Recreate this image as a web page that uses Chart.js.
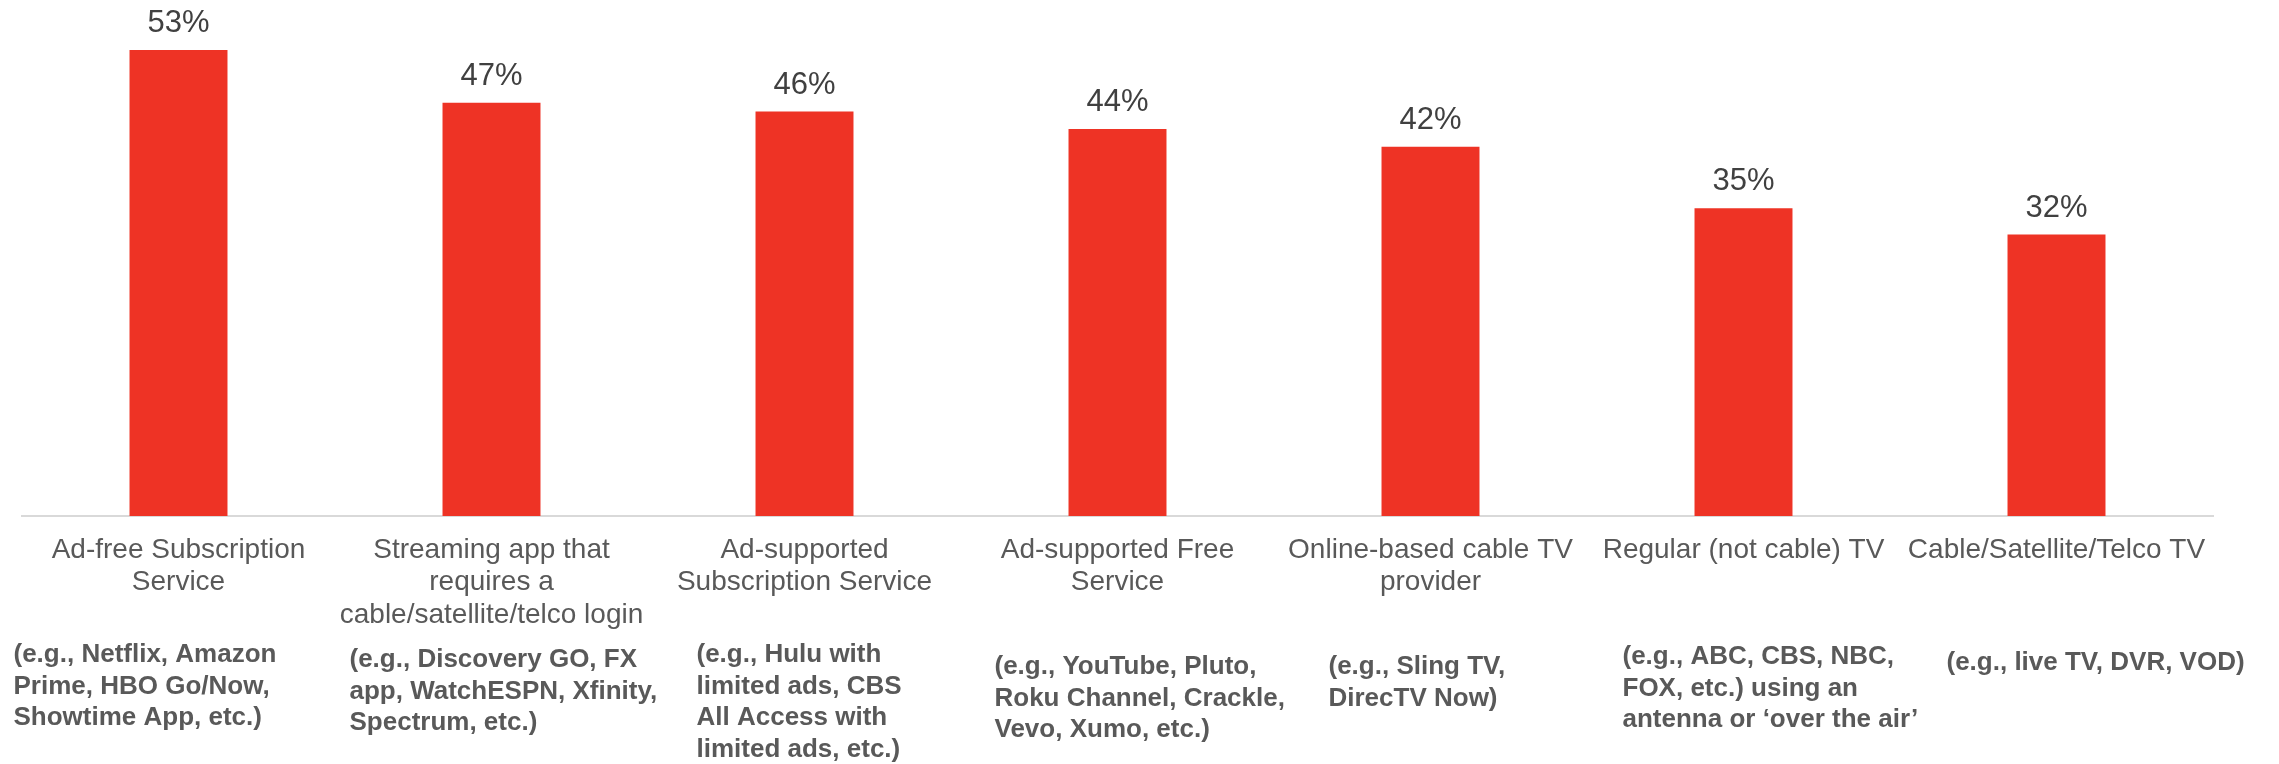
<!DOCTYPE html>
<html>
<head>
<meta charset="utf-8">
<script src="https://cdn.jsdelivr.net/npm/chart.js@4/dist/chart.umd.min.js"></script>
<style>
  html, body { margin: 0; padding: 0; background: #ffffff; }
  canvas { display: block; }
</style>
</head>
<body>
<canvas id="c" width="2279" height="764"></canvas>
<script>
// ---- data ----
const categories = [
  "Ad-free Subscription\nService",
  "Streaming app that\nrequires a\ncable/satellite/telco login",
  "Ad-supported\nSubscription Service",
  "Ad-supported Free\nService",
  "Online-based cable TV\nprovider",
  "Regular (not cable) TV",
  "Cable/Satellite/Telco TV"
];
const values = [53, 47, 46, 44, 42, 35, 32];
const examples = [
  "(e.g., Netflix, Amazon\nPrime, HBO Go/Now,\nShowtime App, etc.)",
  "(e.g., Discovery GO, FX\napp, WatchESPN, Xfinity,\nSpectrum, etc.)",
  "(e.g., Hulu with\nlimited ads, CBS\nAll Access with\nlimited ads, etc.)",
  "(e.g., YouTube, Pluto,\nRoku Channel, Crackle,\nVevo, Xumo, etc.)",
  "(e.g., Sling TV,\nDirecTV Now)",
  "(e.g., ABC, CBS, NBC,\nFOX, etc.) using an\nantenna or ‘over the air’",
  "(e.g., live TV, DVR, VOD)"
];

// ---- layout of the example text blocks (offset from category centre, first line centre y) ----
const exampleDx = [-165, -142, -108, -123, -102, -121, -110];
const exampleY  = [655, 660, 655, 667, 667, 657, 663];

const FONT = '"Liberation Sans", Arial, Helvetica, sans-serif';

const valueLabels = {
  id: 'valueLabels',
  afterDatasetsDraw(chart) {
    const ctx = chart.ctx;
    const meta = chart.getDatasetMeta(0);
    ctx.save();
    ctx.font = '31px ' + FONT;
    ctx.fillStyle = '#404040';
    ctx.textAlign = 'center';
    ctx.textBaseline = 'alphabetic';
    meta.data.forEach((bar, i) => {
      ctx.fillText(values[i] + '%', bar.x, bar.y - 18);
    });
    ctx.restore();
  }
};

const exampleText = {
  id: 'exampleText',
  afterDraw(chart) {
    const ctx = chart.ctx;
    const xs = chart.scales.x;
    ctx.save();
    ctx.font = 'bold 26px ' + FONT;
    ctx.fillStyle = '#595959';
    ctx.textAlign = 'left';
    ctx.textBaseline = 'middle';
    examples.forEach((txt, i) => {
      const x0 = xs.getPixelForValue(i) + exampleDx[i];
      txt.split('\n').forEach((line, j) => {
        ctx.fillText(line, x0, exampleY[i] + j * 31.5);
      });
    });
    ctx.restore();
  }
};

new Chart(document.getElementById('c'), {
  type: 'bar',
  data: {
    labels: categories,
    datasets: [{
      data: values,
      backgroundColor: '#EE3325',
      borderWidth: 0,
      categoryPercentage: 1.0,
      barPercentage: 0.313
    }]
  },
  options: {
    responsive: false,
    animation: false,
    events: [],
    layout: { padding: { top: 6, left: 22, right: 66, bottom: 0 } },
    plugins: {
      legend: { display: false },
      tooltip: { enabled: false },
      title: { display: false }
    },
    scales: {
      x: {
        grid: { display: false, drawTicks: false },
        border: { display: true, color: '#D9D9D9', width: 2 },
        ticks: {
          autoSkip: false,
          maxRotation: 0,
          minRotation: 0,
          padding: 18,
          color: '#595959',
          font: { family: FONT, size: 28, lineHeight: 1.16 },
          callback: function(value, index) { return categories[index].split('\n'); }
        },
        afterFit: function(scale) { scale.height = 248; }
      },
      y: {
        display: false,
        min: 0,
        max: 58
      }
    }
  },
  plugins: [valueLabels, exampleText]
});
</script>
</body>
</html>
